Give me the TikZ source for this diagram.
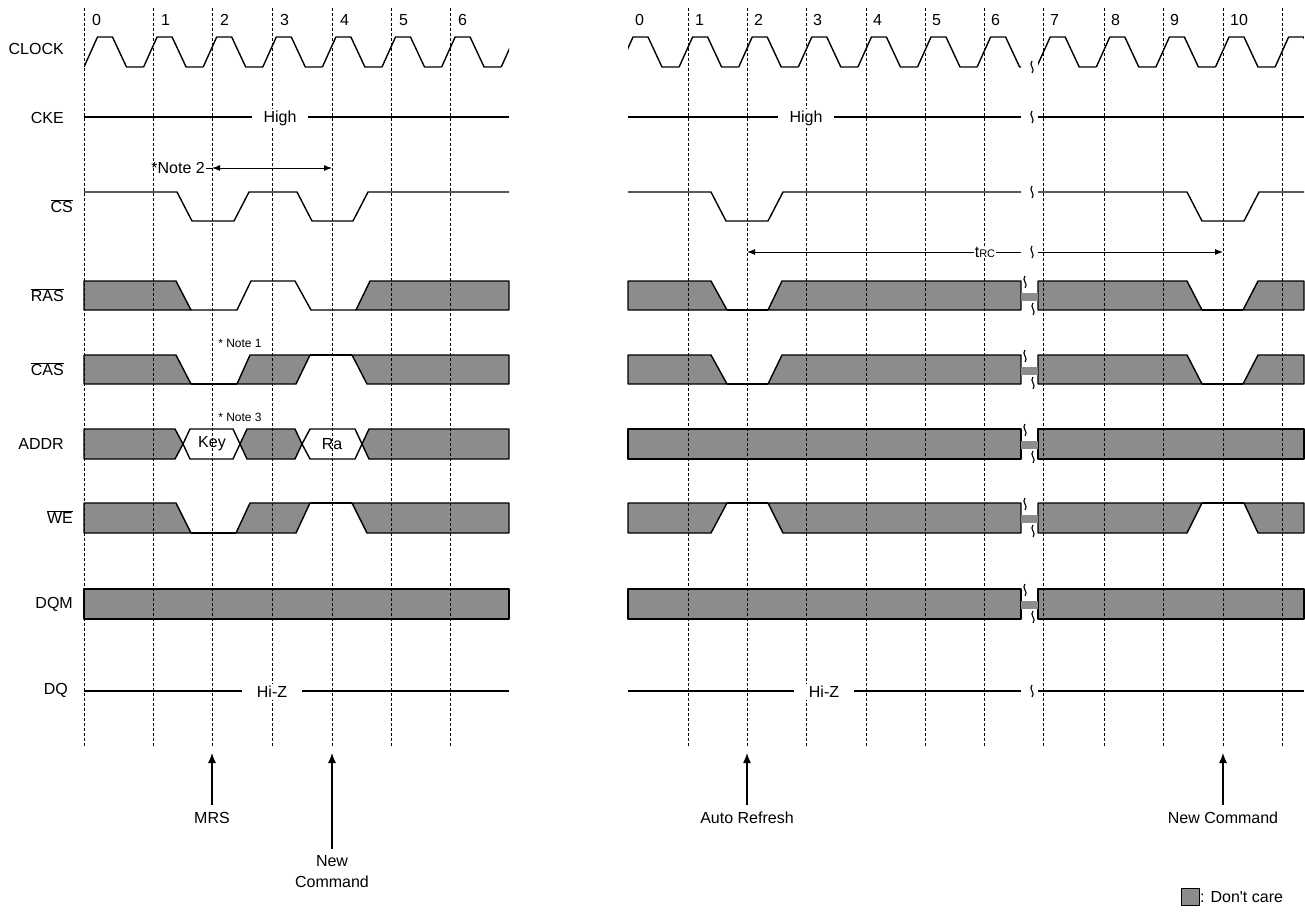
\documentclass[tikz,border=0pt]{standalone}
\usepackage{fontspec}
\setmainfont{Liberation Sans}
\usetikzlibrary{arrows.meta}
\newcommand{\wiggle}[2]{\draw[line width=1.1pt] (#1,#2-6) .. controls (#1-4,#2-2) and (#1+4,#2+2) .. (#1,#2+6);}

\begin{document}
\begin{tikzpicture}[x=1pt,y=-1pt,
		font=\fontsize{16}{19}\selectfont,
		grid/.style={line width=0.6pt,dash pattern=on 3pt off 2pt},
		sig/.style={line width=1.4pt,line join=round},
		dc/.style={draw,line width=1.4pt,line join=round,fill=black!45},
		sname/.style={anchor=east,inner sep=0pt},
		lbl/.style={fill=white,inner xsep=12pt,inner ysep=2pt},
		note/.style={font=\fontsize{12}{14}\selectfont},
		cmd/.style={outer sep=4pt,align=center,font=\fontsize{16}{21}\selectfont},
		dim/.style={line width=1pt,{Latex[length=8pt,width=6pt]}-{Latex[length=8pt,width=6pt]}},
		arr/.style={-{Latex[length=10pt,width=8pt]},line width=1.2pt}]
	\useasboundingbox (0,0) rectangle (1305,913);

	\node[sname] (clk) at (64,49) {CLOCK};
	\node[sname] (cke) at (64,118) {CKE};
	\node[sname] (cs) at (73,206) {$\overline{\mbox{CS}}$};
	\node[sname] (ras) at (64,295) {$\overline{\mbox{RAS}}$};
	\node[sname] (cas) at (64,369) {$\overline{\mbox{CAS}}$};
	\node[sname] (addr) at (64,444) {ADDR};
	\node[sname] (we) at (73,517) {$\overline{\mbox{WE}}$};
	\node[sname] (dqm) at (73,604) {DQM};
	\node[sname] (dq) at (68,690) {DQ};

	\begin{scope}
		\clip (84,0) rectangle (509,100);
		\foreach \k in {0,...,7}
			\draw[sig] (84+59.6*\k,67) -- ++(13.5,-30) -- ++(15,0) -- ++(14,30) -- ++(17.1,0);
	\end{scope}
	\begin{scope}
		\clip (628,0) rectangle (1021,100) (1038,0) rectangle (1304,100);
		\foreach \k in {0,...,11}
			\draw[sig] (619.5+59.6*\k,67) -- ++(13.5,-30) -- ++(15,0) -- ++(14,30) -- ++(17.1,0);
	\end{scope}

	\draw[sig] (84,117) -- (509,117);
	\draw[sig] (628,117) -- (1021,117) (1038,117) -- (1304,117);

	\draw[sig] (84,192) -- (177,192) -- (192,221) -- (234,221) -- (249,192) -- (297,192) -- (312,221) -- (353,221) -- (368,192) -- (509,192);
	\draw[sig] (628,192) -- (711,192) -- (726,221) -- (768,221) -- (783,192) -- (1021,192);
	\draw[sig] (1038,192) -- (1187,192) -- (1202,221) -- (1244,221) -- (1259,192) -- (1304,192);

	\draw[dc] (84,281) -- (176,281) -- (191,310) -- (84,310) -- cycle;
	\draw[sig] (191,310) -- (237,310) -- (251,281) -- (295,281) -- (311,310) -- (356,310);
	\draw[dc] (356,310) -- (370,281) -- (509,281) -- (509,310) -- cycle;

	\draw[dc] (84,355) -- (176,355) -- (191,384) -- (84,384) -- cycle;
	\draw[sig] (191,384) -- (237,384);
	\draw[dc] (237,384) -- (250,355) -- (310,355) -- (296,384) -- cycle;
	\draw[sig] (310,355) -- (352,355);
	\draw[dc] (352,355) -- (509,355) -- (509,384) -- (367,384) -- cycle;

	\foreach \t/\b in {281/310,355/384}{
		\draw[dc] (628,\t) -- (711,\t) -- (727,\b) -- (628,\b) -- cycle;
		\draw[sig] (727,\b) -- (768,\b);
		\draw[dc] (768,\b) -- (782,\t) -- (1021,\t) -- (1021,\b) -- cycle;
		\draw[dc] (1038,\t) -- (1187,\t) -- (1202,\b) -- (1038,\b) -- cycle;
		\draw[sig] (1202,\b) -- (1243,\b);
		\draw[dc] (1243,\b) -- (1258,\t) -- (1304,\t) -- (1304,\b) -- cycle;
	}

	\draw[dc] (84,429) -- (175,429) -- (183,444) -- (175,459) -- (84,459) -- cycle;
	\draw[sig] (183,444) -- (190,429) -- (233,429) -- (240,444) -- (233,459) -- (190,459) -- cycle;
	\draw[dc] (240,444) -- (247,429) -- (295,429) -- (302,444) -- (295,459) -- (247,459) -- cycle;
	\draw[sig] (302,444) -- (310,429) -- (355,429) -- (362,444) -- (355,459) -- (310,459) -- cycle;
	\draw[dc] (362,444) -- (369,429) -- (509,429) -- (509,459) -- (369,459) -- cycle;
	\node (key) at (212,444) {Key};
	\node (ra) at (332,444) {Ra};

	\draw[dc] (84,503) -- (176,503) -- (191,533) -- (84,533) -- cycle;
	\draw[sig] (191,533) -- (236,533);
	\draw[dc] (236,533) -- (250,503) -- (310,503) -- (296,533) -- cycle;
	\draw[sig] (310,503) -- (352,503);
	\draw[dc] (352,503) -- (509,503) -- (509,533) -- (367,533) -- cycle;

	\draw[dc] (628,503) -- (727,503) -- (711,533) -- (628,533) -- cycle;
	\draw[sig] (727,503) -- (768,503);
	\draw[dc] (768,503) -- (1021,503) -- (1021,533) -- (783,533) -- cycle;
	\draw[dc] (1038,503) -- (1202,503) -- (1187,533) -- (1038,533) -- cycle;
	\draw[sig] (1202,503) -- (1244,503);
	\draw[dc] (1244,503) -- (1304,503) -- (1304,533) -- (1258,533) -- cycle;

	\draw[dc] (84,589) rectangle (509,619);
	\foreach \t/\b in {429/459,589/619}{
		\draw[dc] (628,\t) rectangle (1021,\b);
		\draw[dc] (1038,\t) rectangle (1304,\b);
	}

	\draw[sig] (84,691) -- (509,691);
	\draw[sig] (628,691) -- (1021,691) (1038,691) -- (1304,691);

	\foreach \x in {84,153,212,272,332,391,450,688,747,806,866,925,984,1043,1104,1163,1223,1282}
		\draw[grid] (\x,8) -- (\x,747);
	\foreach \x [count=\n from 0] in {84,153,212,272,332,391,450}
		\node[anchor=west,inner sep=0pt] (l\n) at (\x+8,20) {\n};
	\foreach \x [count=\n from 0] in {628,688,747,806,866,925,984,1043,1104,1163,1223}
		\node[anchor=west,inner sep=0pt] (r\n) at (\x+7,20) {\n};

	\foreach \t in {281,355,429,503,589}{
		\fill[black!45] (1021,\t+12) rectangle (1038,\t+20);
		\wiggle{1025}{\t+1}
		\wiggle{1033}{\t+28}
	}
	\foreach \y in {67,117,192,252,691}{
		\wiggle{1032}{\y}
	}

	\node[lbl,inner xsep=11.5pt] (high1) at (280,118) {High};
	\node[lbl,inner xsep=11.5pt] (high2) at (806,118) {High};
	\node[lbl,inner xsep=15pt] (hiz1) at (272,692) {Hi-Z};
	\node[lbl,inner xsep=15pt] (hiz2) at (824,692) {Hi-Z};

	\node[anchor=east,inner sep=1pt] (note2) at (206,168) {*Note 2};
	\coordinate (n2a) at (212,168);
	\coordinate (n2b) at (332,168);
	\draw[line width=1pt] (note2) -- (n2a);
	\draw[dim] (n2a) -- (n2b);
	\node[note] (note1) at (240,343) {* Note 1};
	\node[note] (note3) at (240,417) {* Note 3};

	\node[fill=white,inner sep=1pt] (trc) at (985,252) {t{\fontsize{11}{12}\selectfont RC}};
	\coordinate (trca) at (747,252);
	\coordinate (trcb) at (1021,252);
	\coordinate (trcc) at (1038,252);
	\coordinate (trcd) at (1223,252);
	\draw[line width=1pt,{Latex[length=8pt,width=6pt]}-] (trca) -- (trc);
	\draw[line width=1pt] (trc) -- (trcb);
	\draw[line width=1pt,-{Latex[length=8pt,width=6pt]}] (trcc) -- (trcd);

	\node[cmd] (mrs) at (212,818) {MRS};
	\coordinate (mrst) at (212,753);
	\draw[arr] (mrs) -- (mrst);
	\node[cmd] (newc1) at (332,872) {New\\Command};
	\coordinate (newc1t) at (332,753);
	\draw[arr] (newc1) -- (newc1t);
	\node[cmd] (aref) at (747,818) {Auto Refresh};
	\coordinate (areft) at (747,753);
	\draw[arr] (aref) -- (areft);
	\node[cmd] (newc2) at (1223,818) {New Command};
	\coordinate (newc2t) at (1223,753);
	\draw[arr] (newc2) -- (newc2t);

	\draw[dc,line width=0.8pt] (1181,888) rectangle (1199,905);
	\node[anchor=west,inner sep=1pt] (dcare) at (1199,897) {: Don\textquotesingle t care};
\end{tikzpicture}
\end{document}
